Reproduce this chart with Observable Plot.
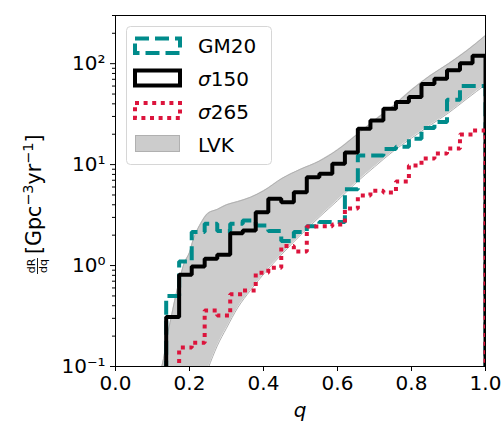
<!DOCTYPE html>
<html><head><meta charset="utf-8">
<script src="https://cdn.jsdelivr.net/npm/d3@7"></script>
<script src="https://cdn.jsdelivr.net/npm/@observablehq/plot@0.6"></script>
<style>body{margin:0;background:white;} svg{display:block}</style>
</head><body><div id="chart"></div>
<script>
// ---- data ----
const binEdges = [0.137,0.172,0.206,0.241,0.275,0.310,0.344,0.379,0.413,0.448,0.482,0.517,0.551,0.586,0.620,0.655,0.689,0.724,0.758,0.793,0.827,0.862,0.896,0.931,0.965,1.0];
const gm20     = [0.50,1.10,2.15,2.6,2.2,2.6,2.8,2.5,2.2,1.75,2.15,2.45,2.7,2.7,5.7,12.3,12.3,14.3,15,18,23,26.5,44,60,60];
const sigma150 = [0.31,0.81,0.98,1.17,1.28,2.09,2.22,3.38,4.6,4.24,5.33,7.5,8.1,10.2,13.2,22.6,27.3,35.7,41.7,46.7,63,71,86,101,120];
const sigma265 = [null,0.154,0.172,0.358,0.32,0.52,0.565,0.85,0.95,1.56,1.38,2.44,2.45,2.55,3.67,4.94,5.5,5.3,6.8,9.8,11.5,12.9,14.4,19.9,21.8];
const lvkQ  = [0.12,0.13,0.14,0.15,0.16,0.175,0.185,0.2,0.21,0.23,0.25,0.275,0.3,0.33,0.365,0.4,0.45,0.5,0.55,0.6,0.65,0.7,0.75,0.8,0.85,0.9,0.95,1.0];
const lvkHi = [0.085,0.12,0.2,0.3,0.45,0.77,1.04,1.35,1.8,2.6,3.3,3.6,4.0,4.3,4.75,5.5,7.3,9.0,10.8,14,19.5,27.5,38,55,76,100,135,190];
const lvkLo = [0.002,0.003,0.004,0.006,0.008,0.012,0.016,0.025,0.035,0.06,0.095,0.16,0.24,0.38,0.57,0.82,1.3,2.0,3.0,4.4,6.6,9.5,13.5,18.3,24.5,32.5,45,62];
const xTicks = [0,0.2,0.4,0.6,0.8,1.0];
const yTicks = [0.1,1,10,100];
const yTickLabels = ["10\u207B\u00B9","10\u2070","10\u00B9","10\u00B2"];
const yDomain = [0.1, 300];
const legendNames = ["GM20","150","265","LVK"];

const colTeal = "#008b8b", colRed = "#dc143c", colBand = "#cccccc", colBandEdge = "#b0b0b0";

function steps(vals){
  const pts = []; const bottom = yDomain[0] / 3;
  let started = false;
  vals.forEach((v,i) => {
    if (v == null) return;
    if (!started) { pts.push({x: binEdges[i], y: bottom}); started = true; }
    pts.push({x: binEdges[i], y: v});
    pts.push({x: binEdges[i+1], y: v});
  });
  pts.push({x: binEdges[binEdges.length-1], y: bottom});
  return pts;
}
const band = lvkQ.map((q,i) => ({q, lo: lvkLo[i], hi: lvkHi[i]}));
const minorTicks = d3.scaleLog().domain(yDomain).ticks()
  .filter(t => Math.abs(Math.log10(t) - Math.round(Math.log10(t))) > 1e-9);

const chart = Plot.plot({
  width: 503, height: 422,
  marginLeft: 115, marginRight: 18, marginTop: 15, marginBottom: 56,
  style: {fontFamily: "'DejaVu Sans', sans-serif", fontSize: "20px", color: "black", background: "white", overflow: "visible"},
  x: {domain: [0, 1]},
  y: {type: "log", domain: yDomain},
  marks: [
    Plot.areaY(band, {x: "q", y1: "lo", y2: "hi", fill: colBand, curve: "monotone-x", clip: true}),
    Plot.line(band, {x: "q", y: "hi", stroke: colBandEdge, strokeWidth: 1, curve: "monotone-x", clip: true}),
    Plot.line(band, {x: "q", y: "lo", stroke: colBandEdge, strokeWidth: 1, curve: "monotone-x", clip: true}),
    Plot.line(steps(gm20), {x: "x", y: "y", stroke: colTeal, strokeWidth: 4, strokeDasharray: "14,6", strokeLinecap: "butt", strokeLinejoin: "miter", clip: true}),
    Plot.line(steps(sigma150), {x: "x", y: "y", stroke: "black", strokeWidth: 4, strokeLinecap: "butt", strokeLinejoin: "miter", clip: true}),
    Plot.line(steps(sigma265), {x: "x", y: "y", stroke: colRed, strokeWidth: 4, strokeDasharray: "4,4.6", strokeLinecap: "butt", strokeLinejoin: "miter", clip: true}),
    Plot.frame({stroke: "black", strokeWidth: 1}),
    Plot.axisX({ticks: xTicks, tickFormat: d3.format(".1f"), tickSize: 5, tickPadding: 4, label: null}),
    Plot.axisY({ticks: yTicks, tickFormat: d => yTickLabels[yTicks.indexOf(d)], tickSize: 5, tickPadding: 5, label: null}),
    Plot.axisY({ticks: minorTicks, tickSize: 3, tickFormat: () => "", label: null})
  ]
});
document.getElementById("chart").appendChild(chart);

const svg = d3.select(chart);
const font = "'DejaVu Sans', sans-serif";

// x label
svg.append("text").attr("x", 300).attr("y", 417).attr("text-anchor", "middle")
  .attr("font-family", font).attr("font-size", 20).attr("font-style", "italic").text("q");

// y label (rotated)
const yl = svg.append("g").attr("transform", "translate(41,191) rotate(-90)").attr("font-family", font);
yl.append("text").attr("x", -75).attr("y", -6).attr("text-anchor", "middle").attr("font-size", 11).text("dR");
yl.append("line").attr("x1", -83).attr("x2", -67).attr("y1", -3.5).attr("y2", -3.5).attr("stroke", "black").attr("stroke-width", 0.9);
yl.append("text").attr("x", -75).attr("y", 5.5).attr("text-anchor", "middle").attr("font-size", 11).text("dq");
const ytxt = yl.append("text").attr("x", -63).attr("y", 0).attr("font-size", 20.5).attr("text-anchor", "start");
ytxt.append("tspan").text("[Gpc");
ytxt.append("tspan").attr("dy", -8).attr("font-size", 14.5).text("\u22123");
ytxt.append("tspan").attr("dy", 8).text("yr");
ytxt.append("tspan").attr("dy", -8).attr("font-size", 14.5).text("\u22121");
ytxt.append("tspan").attr("dy", 8).text("]");

// legend
const lg = svg.append("g").attr("font-family", font).attr("text-anchor", "start");
lg.append("rect").attr("x", 126.5).attr("y", 26.5).attr("width", 145).attr("height", 138).attr("rx", 4)
  .attr("fill", "white").attr("fill-opacity", 0.8).attr("stroke", "#d6d6d6").attr("stroke-width", 1);
const entries = [
  {y: 38.5, h: 14.5, stroke: colTeal, dash: "14,6", fill: "none", sw: 4},
  {y: 70.5, h: 15, stroke: "black", dash: null, fill: "none", sw: 4},
  {y: 103, h: 15, stroke: colRed, dash: "4,4.6", fill: "none", sw: 4},
  {y: 135.5, h: 16, stroke: colBandEdge, dash: null, fill: colBand, sw: 1}
];
const baselines = [53, 86, 119, 151.5];
entries.forEach((e,i) => {
  const r = lg.append("rect").attr("x", e.sw > 1 ? 135 : 135.5).attr("y", e.y).attr("width", e.sw > 1 ? 45 : 44).attr("height", e.h)
    .attr("fill", e.fill).attr("stroke", e.stroke).attr("stroke-width", e.sw);
  if (e.dash) r.attr("stroke-dasharray", e.dash);
  const t = lg.append("text").attr("x", 198).attr("y", baselines[i]).attr("font-size", 20).attr("text-anchor", "start");
  if (i === 1 || i === 2) {
    t.append("tspan").attr("font-style", "italic").text("\u03C3");
    t.append("tspan").text(legendNames[i]);
  } else {
    t.text(legendNames[i]);
  }
});
</script></body></html>
